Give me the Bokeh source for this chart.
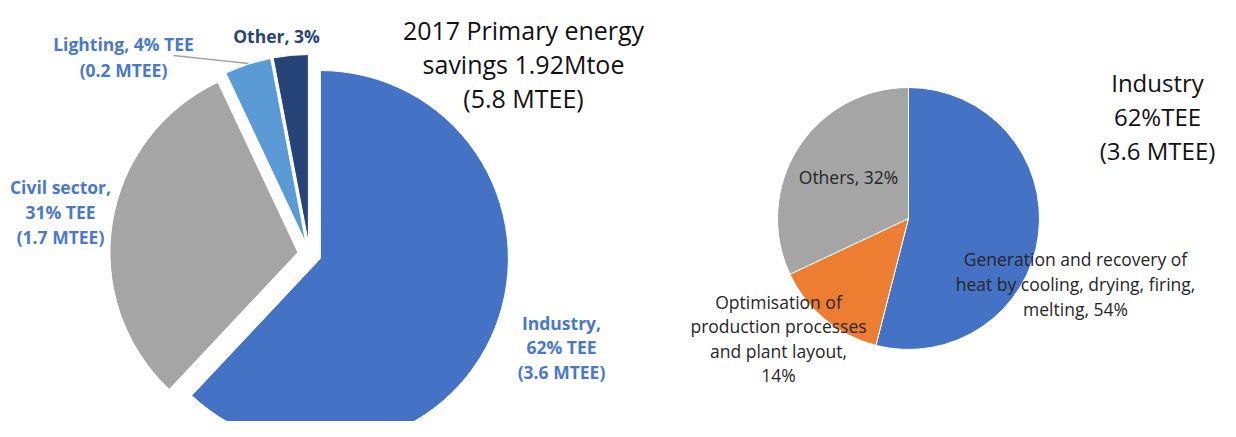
import math
from bokeh.plotting import figure
from bokeh.models import Range1d
from bokeh.core.properties import value
from bokeh.embed import file_html
from bokeh.resources import INLINE

# ---- data ----
left_names = ["Industry", "Civil sector", "Lighting", "Other"]
left_shares = [62, 31, 4, 3]
left_colors = ["#4472C4", "#A5A5A5", "#5B9BD5", "#264478"]
left_label_lines = [
    ["Industry,", "62% TEE", "(3.6 MTEE)"],
    ["Civil sector,", "31% TEE", "(1.7 MTEE)"],
    ["Lighting, 4% TEE", "(0.2 MTEE)"],
    ["Other, 3%"],
]
left_label_colors = ["#4A78CC", "#4A78CC", "#4A78CC", "#264478"]

right_names = ["Generation and recovery of heat", "Optimisation of production", "Others"]
right_shares = [54, 14, 32]
right_colors = ["#4472C4", "#ED7D31", "#A5A5A5"]
right_label_lines = [
    ["Generation and recovery of", "heat by cooling, drying, firing,", "melting, 54%"],
    ["Optimisation of", "production processes", "and plant layout,", "14%"],
    ["Others, 32%"],
]

title_left = ["2017 Primary energy", "savings 1.92Mtoe", "(5.8 MTEE)"]
title_right = ["Industry", "62%TEE", "(3.6 MTEE)"]

# ---- layout (image pixel coordinates) ----
W, H = 1220, 421
IMG_H = 437


def Y(y_img):
    return IMG_H - y_img


FONT = value("Open Sans")

p = figure(width=W, height=H, output_backend="svg", toolbar_location=None,
           x_range=Range1d(0, W), y_range=Range1d(IMG_H - H, IMG_H),
           min_border=0)
p.axis.visible = False
p.grid.visible = False
p.outline_line_color = None
p.background_fill_color = "white"
p.border_fill_color = "white"


def pie(cx, cy, r, shares, colors, explode):
    total = float(sum(shares))
    acc = 0.0
    xs, ys, sa, ea = [], [], [], []
    for s in shares:
        t0 = acc / total * 2 * math.pi
        acc += s
        t1 = acc / total * 2 * math.pi
        tm = (t0 + t1) / 2
        xs.append(cx + explode * math.sin(tm))
        ys.append(cy + explode * math.cos(tm))
        sa.append(math.pi / 2 - t0)
        ea.append(math.pi / 2 - t1)
    p.wedge(x=xs, y=ys, radius=r, start_angle=sa, end_angle=ea,
            direction="clock", fill_color=colors, line_color="white",
            line_width=1)


# left pie (exploded)
pie(309, Y(253.7), 188, left_shares, left_colors, 11.7)
# right pie
pie(908, Y(218), 131, right_shares, right_colors, 0)

# leader line for Lighting
p.line(x=[173, 248], y=[Y(55), Y(63)], line_color="#A5A5A5", line_width=1.5)


def text_block(cx, y_first, lines, size, color, spacing, style="normal"):
    ys = [Y(y_first + i * spacing) for i in range(len(lines))]
    p.text(x=[cx] * len(lines), y=ys, text=lines, text_font=FONT,
           text_font_size=value(size), text_color=color,
           text_font_style=style, text_align="center",
           text_baseline="middle")


# left pie labels
left_pos = [(561, 322, 24.5), (60, 186, 25), (123, 43, 26), (276, 35, 25)]
for (cx, yf, sp), lines, col in zip(left_pos, left_label_lines, left_label_colors):
    text_block(cx, yf, lines, "17.5px", col, sp, "bold")

# right pie labels
right_pos = [(1075, 258, 25), (778, 301, 24.5), (848, 176, 25)]
for (cx, yf, sp), lines in zip(right_pos, right_label_lines):
    text_block(cx, yf, lines, "17.5px", "#262626", sp)

# titles
text_block(523, 29, title_left, "25px", "#111111", 34)
text_block(1157, 82, title_right, "24px", "#111111", 34)

open("out.html", "w").write(file_html(p, INLINE))
